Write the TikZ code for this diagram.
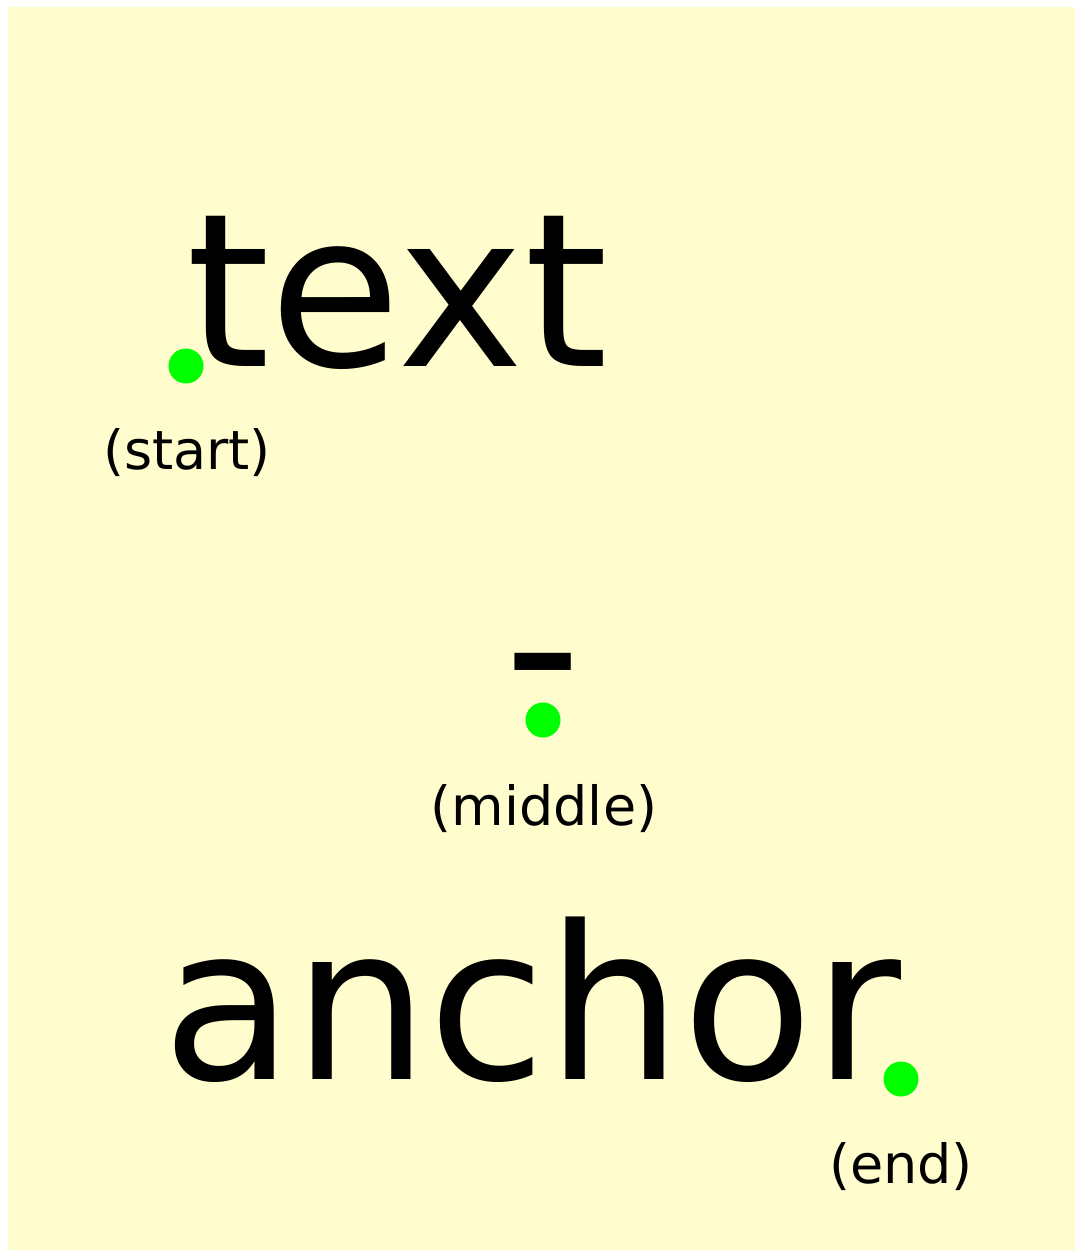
\documentclass[tikz,border=0pt]{standalone}
\usepackage{fontspec}
\setmainfont{DejaVu Sans}
\definecolor{bgyellow}{RGB}{255,252,206}
\definecolor{dotgreen}{RGB}{0,255,0}
\begin{document}
\begin{tikzpicture}[x=1pt,y=-1pt,
  big/.style={inner sep=0pt,outer sep=0pt,font=\fontsize{214}{214}\selectfont},
  lbl/.style={inner sep=0pt,outer sep=0pt,anchor=base,font=\fontsize{54}{54}\selectfont},
  anchordot/.style={fill=dotgreen,draw=none}]
\useasboundingbox (0,0) rectangle (1075,1250);
\fill[bgyellow] (8,7) rectangle (1075,1250);
% start
\coordinate (ps) at (186,366);
\node[big,anchor=base west] (ts) at (ps) {text};
\fill[anchordot] (ps) circle (17.5);
\node[lbl] (ls) at (187,469) {(start)};
% middle
\coordinate (pm) at (543,720);
\node[big,anchor=base] (tm) at (pm) {-};
\fill[anchordot] (pm) circle (17.5);
\node[lbl] (lm) at (544,825) {(middle)};
% end
\coordinate (pe) at (901,1079);
\node[big,anchor=base east] (te) at (pe) {anchor};
\fill[anchordot] (pe) circle (17.5);
\node[lbl] (le) at (901,1183) {(end)};
\end{tikzpicture}
\end{document}
